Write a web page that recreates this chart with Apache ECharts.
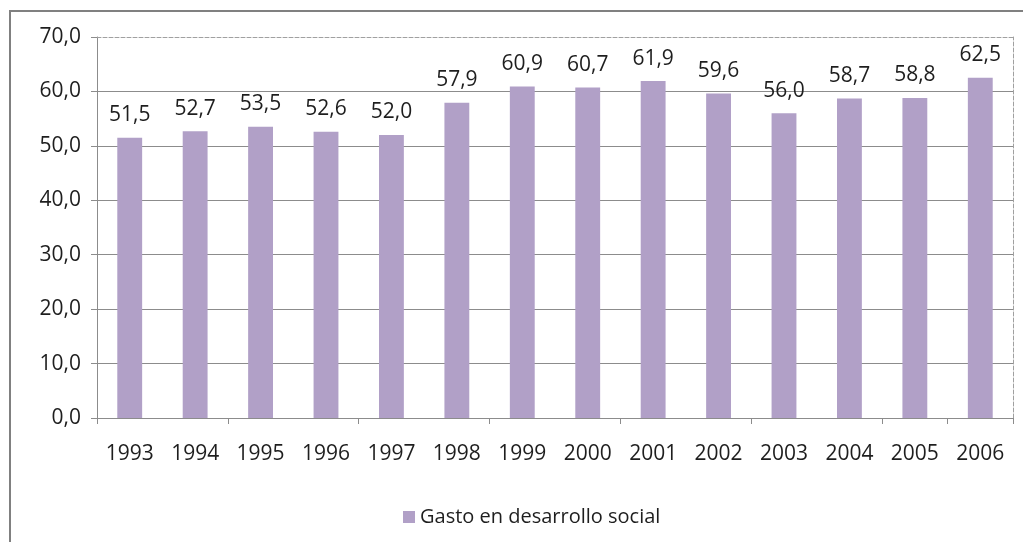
<!DOCTYPE html>
<html>
<head>
<meta charset="utf-8">
<script src="https://cdn.jsdelivr.net/npm/echarts@6/dist/echarts.min.js"></script>
<style>
	html, body { margin: 0; padding: 0; background: #fff; }
	#chart { width: 1023px; height: 542px; }
</style>
</head>
<body>
<div id="chart"></div>
<script>
	var years = ['1993', '1994', '1995', '1996', '1997', '1998', '1999', '2000', '2001', '2002', '2003', '2004', '2005', '2006'];
	var gasto = [51.5, 52.7, 53.5, 52.6, 52.0, 57.9, 60.9, 60.7, 61.9, 59.6, 56.0, 58.7, 58.8, 62.5];
	var seriesName = 'Gasto en desarrollo social';

	var fontFamily = '"Open Sans", "Noto Sans", sans-serif';
	var textColor = '#1e1e1e';
	var gridGray = '#8c8c8c';

	function comma(v) {
		return Number(v).toFixed(1).replace('.', ',');
	}

	var myChart = echarts.init(document.getElementById('chart'));

	var option = {
		animation: false,
		textStyle: { fontFamily: fontFamily },
		grid: { left: 97, right: 10, top: 37, bottom: 124 },
		legend: {
			data: [seriesName],
			left: 398,
			top: 502,
			icon: 'rect',
			itemWidth: 12,
			itemHeight: 12,
			itemGap: 5,
			textStyle: { fontSize: 20, color: textColor, fontFamily: fontFamily }
		},
		xAxis: [{
			type: 'category',
			data: years,
			axisLine: { lineStyle: { color: gridGray, width: 1 } },
			axisTick: { show: true, interval: 1, length: 6, lineStyle: { color: gridGray } },
			axisLabel: { interval: 0, margin: 26, fontSize: 21, color: textColor, fontFamily: fontFamily }
		}, {
			// dashed plot-area border on top
			type: 'category',
			position: 'top',
			data: years,
			axisLine: { onZero: false, lineStyle: { color: '#a0a0a0', type: 'dashed', width: 1 } },
			axisTick: { show: false },
			axisLabel: { show: false }
		}],
		yAxis: [{
			type: 'value',
			min: 0,
			max: 70,
			interval: 10,
			axisLine: { show: true, lineStyle: { color: gridGray } },
			axisTick: { show: true, length: 6, lineStyle: { color: gridGray } },
			axisLabel: { margin: 16, fontSize: 21, color: textColor, fontFamily: fontFamily, formatter: comma },
			splitLine: {
				lineStyle: {
					color: [gridGray, gridGray, gridGray, gridGray, gridGray, gridGray, gridGray, 'transparent'],
					width: 1
				}
			}
		}, {
			// dashed plot-area border on the right
			type: 'value',
			position: 'right',
			min: 0,
			max: 70,
			interval: 10,
			axisLine: { show: true, onZero: false, lineStyle: { color: '#a0a0a0', type: 'dashed' } },
			axisTick: { show: false },
			axisLabel: { show: false },
			splitLine: { show: false }
		}],
		series: [{
			name: seriesName,
			type: 'bar',
			data: gasto,
			barWidth: '38%',
			itemStyle: { color: '#b1a0c7' },
			label: {
				show: true,
				position: 'top',
				distance: 12,
				fontSize: 21,
				color: textColor,
				fontFamily: fontFamily,
				formatter: function(p) { return comma(p.value); }
			}
		}],
		graphic: [{
			type: 'rect',
			shape: { x: 10, y: 11, width: 1100, height: 600 },
			style: { fill: 'none', stroke: '#808080', lineWidth: 2 },
			silent: true
		}]
	};

	myChart.setOption(option);
</script>
</body>
</html>
